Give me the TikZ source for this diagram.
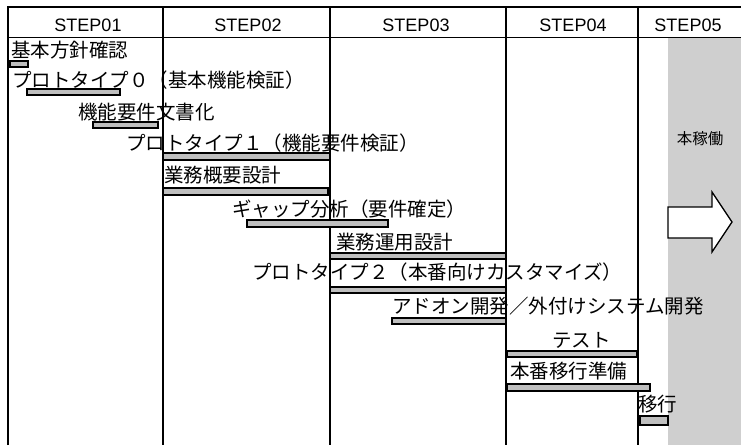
\documentclass[tikz,border=0pt]{standalone}
\usepackage{fontspec}
\setmainfont{Liberation Sans}
\newfontfamily\jp{Noto Sans CJK JP}
\begin{document}
\begin{tikzpicture}[x=1pt,y=-1pt,
  frame/.style={line width=1.6pt,black},
  hdr/.style={font=\fontsize{18}{19}\selectfont, inner sep=0pt},
  task/.style={font=\jp\fontsize{19.5}{20}\selectfont, anchor=west, inner sep=0pt},
  bar/.style={draw=black, line width=1.3pt, fill=gray!50},
  shade/.style={fill=gray!38, draw=none}]
\useasboundingbox (0,0) rectangle (741,445);
\fill[white] (0,0) rectangle (741,445);
% STEP05 shaded area
\fill[shade] (668,38) rectangle (741,445);
% table frame
\draw[frame] (8,445) -- (8,7) -- (741,7);
\draw[line width=0.8pt] (8,37) -- (741,37);
\foreach \xx in {163,330,506,638} \draw[frame] (\xx,7) -- (\xx,445);
% headers
\node[hdr] (h1) at (88,25) {STEP01};
\node[hdr] (h2) at (248,25) {STEP02};
\node[hdr] (h3) at (416,25) {STEP03};
\node[hdr] (h4) at (573,25) {STEP04};
\node[hdr] (h5) at (688,25) {STEP05};
% tasks
\node[task] (t1) at (11,50.5) {基本方針確認};
\draw[bar] (10,61) rectangle (28,67);
\node[task] (t2) at (12,80) {プロトタイプ０（基本機能検証）};
\draw[bar] (27,89) rectangle (120,95);
\node[task] (t3) at (78,112) {機能要件文書化};
\draw[bar] (93,122) rectangle (158,128);
\node[task] (t4) at (126,143) {プロトタイプ１（機能要件検証）};
\draw[bar] (163,153) rectangle (330,160);
\node[task] (t5) at (164,175) {業務概要設計};
\draw[bar] (163,188) rectangle (328,195);
\node[task] (t6) at (232,209) {ギャップ分析（要件確定）};
\draw[bar] (247,220) rectangle (388,227);
\node[task] (t7) at (336,242) {業務運用設計};
\draw[bar] (330,253) rectangle (506,259);
\node[task] (t8) at (252,272) {プロトタイプ２（本番向けカスタマイズ）};
\draw[bar] (330,287) rectangle (506,293);
\node[task] (t9) at (392,306) {アドオン開発／外付けシステム開発};
\draw[bar] (392,318) rectangle (506,324);
\node[task] (t10) at (552,340) {テスト};
\draw[bar] (507,351) rectangle (637,357);
\node[task] (t11) at (510,371) {本番移行準備};
\draw[bar] (507,384) rectangle (650,391);
\node[task] (t12) at (638,404) {移行};
\draw[bar] (640,416) rectangle (668,425);
% go-live
\node[font=\jp\fontsize{15.5}{16}\selectfont, inner sep=0pt] (live) at (700,139) {本稼働};
\draw[line width=1.3pt, fill=white, line join=miter]
  (668,207) -- (712,207) -- (712,192) -- (732,222) -- (712,252) -- (712,238) -- (668,238) -- cycle;
\end{tikzpicture}
\end{document}
